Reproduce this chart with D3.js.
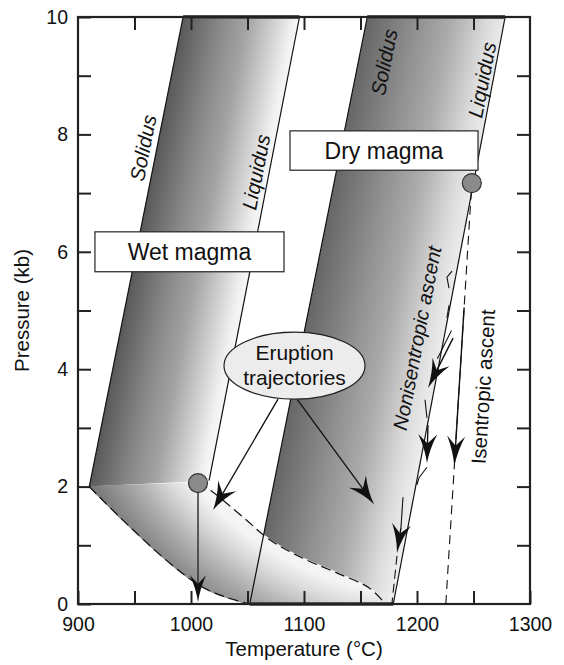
<!DOCTYPE html>
<html>
<head>
<meta charset="utf-8">
<script src="https://cdn.jsdelivr.net/npm/d3@7"></script>
<style>
body { margin: 0; background: #fff; }
text { font-family: "Liberation Sans", Arial, Helvetica, sans-serif; fill: #111; }
</style>
</head>
<body>
<div id="chart"></div>
<script>
// phase boundaries, points are [temperature (C), pressure (kb)]
const wetSolidus = [[910, 2], [993, 10]];
const wetLiquidus = [[1016, 2.1], [1096, 10]];
const drySolidus = [[1052, 0], [1156, 10]];
const dryLiquidus = [[1179, 0], [1278, 10]];

// low pressure part of the wet magma field (dashed edges)
const wetLowerCurve = [[910, 2], [937, 1.48], [981, 0.7], [1010, 0.29], [1032, 0.11], [1052, 0]];
const wetUpperCurve = [[1006, 2.06], [1017, 1.94], [1046, 1.48], [1070, 1.09], [1099, 0.78], [1129, 0.53], [1158, 0.27], [1172, 0]];

// starting magmas
const wetStart = [1006.2, 2.06];
const dryStart = [1248.5, 7.17];

// trajectories
const wetTrajectory = [[1006.2, 2.06], [1006.2, 0.03]];
const isentropicPath = [[1225.5, 0], [1248.5, 7.17]];
const isentropicArrow = [[1241.7, 5.05], [1233.0, 2.35]];
const eruptionArrows = [
  [[1077, 3.49], [1019.5, 1.6]],
  [[1093.8, 3.49], [1162, 1.7]]
];
const nonIsoArrows = [
  [[1231.9, 4.53], [1209.7, 3.68]],
  [[1209.7, 3.05], [1208.8, 2.4]],
  [[1185.8, 1.3], [1182.3, 0.87]]
];
const nonIsoJags = [
  [[1231, 5.67], [1226.5, 5.57], [1228.3, 5.38]],
  [[1228.3, 5.09], [1226.5, 4.87]],
  [[1230.5, 4.66], [1218, 4.18]],
  [[1207.1, 3.48], [1208.8, 3.17]],
  [[1208.8, 2.33], [1201.8, 2.15], [1200, 2.03]],
  [[1187.6, 1.82], [1185.8, 1.3]]
];
const nonIsoDashed = [[1182.3, 0.82], [1177.9, 0.02]];

const xTicks = [900, 950, 1000, 1050, 1100, 1150, 1200, 1250, 1300];
const yTicks = [0, 1, 2, 3, 4, 5, 6, 7, 8, 9, 10];

const width = 564, height = 665;
const x = d3.scaleLinear().domain([900, 1300]).range([78, 530]);
const y = d3.scaleLinear().domain([0, 10]).range([604, 17]);
const px = d => [x(d[0]), y(d[1])];

const svg = d3.select("#chart").append("svg")
  .attr("width", width).attr("height", height);
const defs = svg.append("defs");

// gradient running across a slanted band, from solidus to liquidus
function bandGradient(id, solidus, liquidus, stops) {
  let s0 = px(solidus[0]), s1 = px(solidus[1]);
  let dx = s1[0] - s0[0], dy = s1[1] - s0[1], len = Math.hypot(dx, dy);
  let nx = -dy / len, ny = dx / len;
  let l0 = px(liquidus[0]);
  let w = (l0[0] - s0[0]) * nx + (l0[1] - s0[1]) * ny;
  let g = defs.append("linearGradient").attr("id", id)
    .attr("gradientUnits", "userSpaceOnUse")
    .attr("x1", s0[0]).attr("y1", s0[1])
    .attr("x2", s0[0] + nx * w).attr("y2", s0[1] + ny * w);
  stops.forEach(s => g.append("stop").attr("offset", s[0]).attr("stop-color", s[1]));
}

bandGradient("wetGrad", wetSolidus, wetLiquidus,
  [[0, "#595959"], [0.3, "#858585"], [0.55, "#a4a4a4"], [0.8, "#d6d6d6"], [0.93, "#f1f1f1"], [1, "#f7f7f7"]]);
bandGradient("dryGrad", drySolidus, dryLiquidus,
  [[0, "#666"], [0.35, "#909090"], [0.6, "#adadad"], [0.85, "#dcdcdc"], [1, "#efefef"]]);

let rc = [x(1217), y(5.5)];
let rg = defs.append("radialGradient").attr("id", "lowGrad")
  .attr("gradientUnits", "userSpaceOnUse")
  .attr("cx", rc[0]).attr("cy", rc[1]).attr("r", 400);
[[0, "#f6f6f6"], [0.79, "#f4f4f4"], [0.84, "#d8d8d8"], [0.9, "#b0b0b0"], [0.96, "#8e8e8e"], [1, "#797979"]]
  .forEach(s => rg.append("stop").attr("offset", s[0]).attr("stop-color", s[1]));

const straight = d3.line().x(d => x(d[0])).y(d => y(d[1]));
const smooth = d3.line().x(d => x(d[0])).y(d => y(d[1])).curve(d3.curveCatmullRom);

const plot = svg.append("g");

// bands
plot.append("path")
  .attr("d", straight([drySolidus[0], drySolidus[1], dryLiquidus[1], dryLiquidus[0]]) + "Z")
  .attr("fill", "url(#dryGrad)");
plot.append("path")
  .attr("d", straight([wetSolidus[0], wetSolidus[1], wetLiquidus[1], wetLiquidus[0]]) + "Z")
  .attr("fill", "url(#wetGrad)");
plot.append("path")
  .attr("d", smooth(wetLowerCurve) + "L" + smooth(wetUpperCurve.slice().reverse()).slice(1) + "Z")
  .attr("fill", "url(#lowGrad)")
  .attr("stroke", "url(#lowGrad)").attr("stroke-width", 1.5);

// band edges
[wetSolidus, wetLiquidus, drySolidus, dryLiquidus].forEach(l => {
  plot.append("path").attr("d", straight(l))
    .attr("fill", "none").attr("stroke", "#111").attr("stroke-width", 1.2);
});
plot.append("path").attr("d", straight([[wetSolidus[1][0], 10], [wetLiquidus[1][0], 10]]))
  .attr("stroke", "#555").attr("stroke-width", 4);
plot.append("path").attr("d", straight([[drySolidus[1][0], 10], [dryLiquidus[1][0], 10]]))
  .attr("stroke", "#555").attr("stroke-width", 4);
plot.append("path").attr("d", straight([drySolidus[0], dryLiquidus[0]]))
  .attr("stroke", "#333").attr("stroke-width", 3.5);

[wetLowerCurve, wetUpperCurve].forEach(c => {
  plot.append("path").attr("d", smooth(c))
    .attr("fill", "none").attr("stroke", "#111").attr("stroke-width", 1.2)
    .attr("stroke-dasharray", "10,5");
});

// frame and ticks
svg.append("rect")
  .attr("x", x(900)).attr("y", y(10))
  .attr("width", x(1300) - x(900)).attr("height", y(0) - y(10))
  .attr("fill", "none").attr("stroke", "#222").attr("stroke-width", 2.2);

function styleAxis(g) {
  g.select(".domain").remove();
  g.selectAll(".tick line").attr("stroke", "#222").attr("stroke-width", 2);
  g.selectAll("text").attr("font-size", 19.5).attr("font-family", null).attr("fill", "#111");
}
svg.append("g").attr("transform", `translate(0,${y(0)})`)
  .call(d3.axisBottom(x).tickValues(xTicks).tickSize(-13).tickPadding(13)
    .tickFormat(d => d % 100 === 0 ? d : ""))
  .call(styleAxis);
svg.append("g").attr("transform", `translate(0,${y(10)})`)
  .call(d3.axisTop(x).tickValues(xTicks.slice(1, -1)).tickSize(-13).tickFormat(""))
  .call(styleAxis);
svg.append("g").attr("transform", `translate(${x(900)},0)`)
  .call(d3.axisLeft(y).tickValues(yTicks).tickSize(-13).tickPadding(10)
    .tickFormat(d => d % 2 === 0 ? d : ""))
  .call(styleAxis);
svg.append("g").attr("transform", `translate(${x(1300)},0)`)
  .call(d3.axisRight(y).tickValues(yTicks.slice(1, -1)).tickSize(-13).tickFormat(""))
  .call(styleAxis);

svg.append("text").attr("x", (x(900) + x(1300)) / 2).attr("y", 656)
  .attr("text-anchor", "middle").attr("font-size", 20.5).text("Temperature (°C)");
svg.append("text")
  .attr("transform", `translate(29,${(y(0) + y(10)) / 2}) rotate(-90)`)
  .attr("text-anchor", "middle").attr("font-size", 20.5).text("Pressure (kb)");

// arrows
const ann = svg.append("g");
function arrow(p0, p1, L, W, color, lw) {
  let a = px(p0), b = px(p1);
  let ang = Math.atan2(b[1] - a[1], b[0] - a[0]);
  let ux = Math.cos(ang), uy = Math.sin(ang);
  ann.append("line")
    .attr("x1", a[0]).attr("y1", a[1])
    .attr("x2", b[0] - ux * L * 0.6).attr("y2", b[1] - uy * L * 0.6)
    .attr("stroke", color).attr("stroke-width", lw);
  ann.append("path")
    .attr("d", `M0,0Q${-L * 0.5},${-W * 0.12} ${-L},${-W / 2}L${-L * 0.68},0L${-L},${W / 2}Q${-L * 0.5},${W * 0.12} 0,0Z`)
    .attr("transform", `translate(${b[0]},${b[1]}) rotate(${ang * 180 / Math.PI})`)
    .attr("fill", "#111");
}

ann.append("path").attr("d", straight(isentropicPath))
  .attr("fill", "none").attr("stroke", "#111").attr("stroke-width", 1.1)
  .attr("stroke-dasharray", "9,6");
ann.append("path").attr("d", straight(nonIsoDashed))
  .attr("fill", "none").attr("stroke", "#111").attr("stroke-width", 1.1)
  .attr("stroke-dasharray", "9,5");
nonIsoJags.forEach(j => {
  ann.append("path").attr("d", straight(j))
    .attr("fill", "none").attr("stroke", "#111").attr("stroke-width", 1.1);
});

arrow(wetTrajectory[0], wetTrajectory[1], 27, 16, "#333", 1.5);
arrow(isentropicArrow[0], isentropicArrow[1], 30, 18, "#111", 1.4);
eruptionArrows.forEach(e => arrow(e[0], e[1], 28, 21, "#111", 1.3));
nonIsoArrows.forEach(e => arrow(e[0], e[1], 29, 19, "#111", 1.4));

// starting points
[wetStart, dryStart].forEach(p => {
  ann.append("circle").attr("cx", x(p[0])).attr("cy", y(p[1])).attr("r", 9.5)
    .attr("fill", "#8a8a8a").attr("stroke", "#333").attr("stroke-width", 1.2);
});

// boxes
function box(t0, t1, p0, p1, label) {
  ann.append("rect").attr("x", x(t0)).attr("y", y(p0))
    .attr("width", x(t1) - x(t0)).attr("height", y(p1) - y(p0))
    .attr("fill", "#fff").attr("stroke", "#222").attr("stroke-width", 1.2);
  ann.append("text").attr("x", (x(t0) + x(t1)) / 2).attr("y", (y(p0) + y(p1)) / 2)
    .attr("dy", "0.36em").attr("text-anchor", "middle").attr("font-size", 23).text(label);
}
box(915, 1082.3, 6.34, 5.66, "Wet magma");
box(1087.6, 1254, 8.06, 7.39, "Dry magma");

// eruption trajectories callout
let ec = [x(1091.6), y(4.06)];
ann.append("ellipse").attr("cx", ec[0]).attr("cy", ec[1]).attr("rx", 70.5).attr("ry", 33.5)
  .attr("fill", "#ececec").attr("stroke", "#222").attr("stroke-width", 1.2);
ann.append("text").attr("x", ec[0]).attr("y", ec[1] - 5.5)
  .attr("text-anchor", "middle").attr("font-size", 21).text("Eruption");
ann.append("text").attr("x", ec[0]).attr("y", ec[1] + 19.5)
  .attr("text-anchor", "middle").attr("font-size", 21).text("trajectories");

// labels along lines, always reading upwards
function angleOf(l) {
  let a = px(l[0]), b = px(l[1]);
  let ang = Math.atan2(b[1] - a[1], b[0] - a[0]) * 180 / Math.PI;
  return ang > 0 ? ang - 180 : ang;
}
function slanted(pos, line, label, italic, size) {
  ann.append("text")
    .attr("transform", `translate(${x(pos[0])},${y(pos[1])}) rotate(${angleOf(line)})`)
    .attr("text-anchor", "middle").attr("dy", "0.36em")
    .attr("font-size", size).attr("font-style", italic ? "italic" : "normal")
    .text(label);
}
slanted([957.5, 7.77], wetSolidus, "Solidus", true, 20.5);
slanted([1057.5, 7.36], wetLiquidus, "Liquidus", true, 20.5);
slanted([1170.8, 9.23], drySolidus, "Solidus", true, 20.5);
slanted([1257.5, 8.93], dryLiquidus, "Liquidus", true, 20.5);
slanted([1200, 4.53], dryLiquidus, "Nonisentropic ascent", true, 20);
slanted([1258.4, 3.7], isentropicPath, "Isentropic ascent", false, 20.5);
</script>
</body>
</html>
